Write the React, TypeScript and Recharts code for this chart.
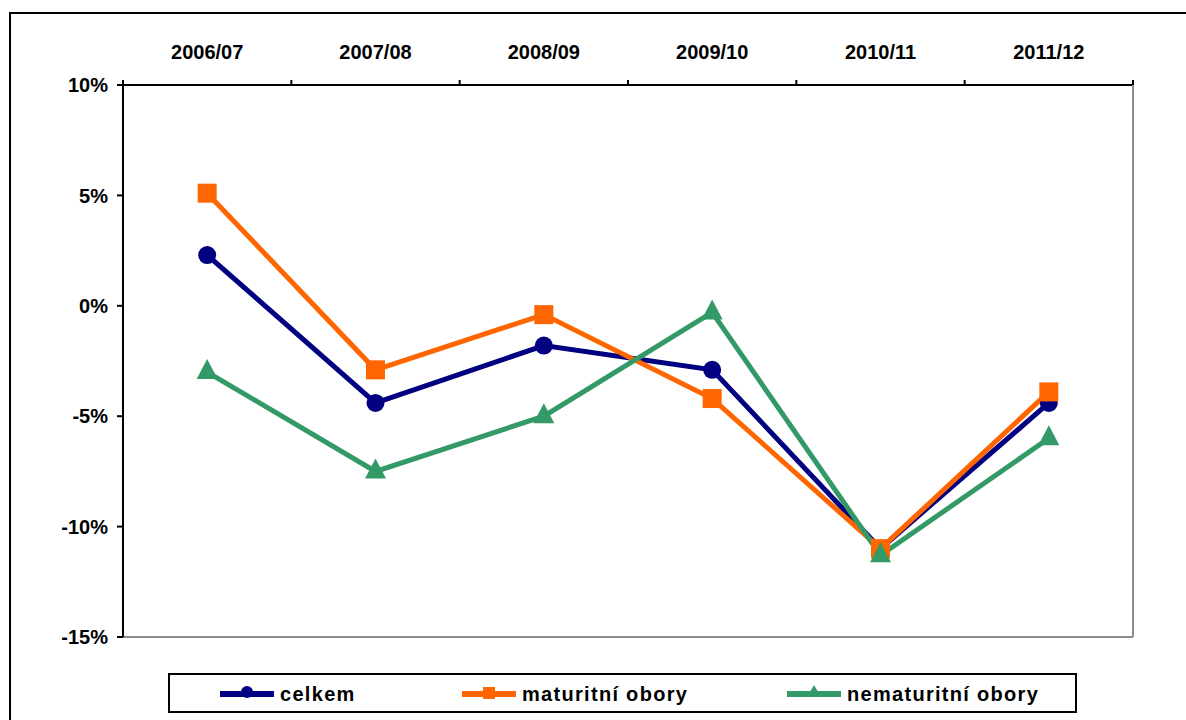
import React from 'react';
import { LineChart, Line, XAxis, YAxis, CartesianGrid, Legend } from 'recharts';

const categories = ['2006/07', '2007/08', '2008/09', '2009/10', '2010/11', '2011/12'];
const celkem = [2.3, -4.4, -1.8, -2.9, -11.0, -4.4];
const maturitni = [5.1, -2.9, -0.4, -4.2, -11.0, -3.9];
const nematuritni = [-3.0, -7.5, -5.0, -0.3, -11.3, -6.0];
const yTicks = [-15, -10, -5, 0, 5, 10];
const gridValues = [-10, -5, 0, 5, 10];
const seriesKeys = ['celkem', 'maturitni', 'nematuritni'];
const seriesNames = ['celkem', 'maturitní obory', 'nematuritní obory'];
const seriesColors = ['#000080', '#FF6600', '#339966'];
const seriesShapes = ['circle', 'square', 'triangle'];

const data = categories.map((c, i) => ({
  cat: c,
  celkem: celkem[i],
  maturitni: maturitni[i],
  nematuritni: nematuritni[i],
}));

const FONT = '"Liberation Sans", Arial, sans-serif';
const X_TICK_MARGIN = 26;

const makeDot = (shape: string, color: string) => (props: any) => {
  const { cx, cy, index } = props;
  if (cx == null || cy == null) return <g key={index} />;
  if (shape === 'circle') return <circle key={index} cx={cx} cy={cy} r={9} fill={color} />;
  if (shape === 'square')
    return <rect key={index} x={cx - 9.5} y={cy - 9.5} width={19} height={19} fill={color} />;
  return (
    <polygon
      key={index}
      points={`${cx},${cy - 13} ${cx + 10.5},${cy + 7} ${cx - 10.5},${cy + 7}`}
      fill={color}
    />
  );
};

const CategoryTick = (props: any) => {
  const { x, y, payload, index, visibleTicksCount } = props;
  const half = payload?.offset ?? 0;
  const axisY = y + X_TICK_MARGIN;
  const isLast = index === (visibleTicksCount ?? categories.length) - 1;
  return (
    <g>
      <text
        x={x}
        y={y}
        textAnchor="middle"
        fill="#000"
        fontSize={20}
        fontWeight="bold"
        fontFamily={FONT}
      >
        {payload.value}
      </text>
      <line x1={x - half} x2={x - half} y1={axisY - 5} y2={axisY} stroke="#000" strokeWidth={2} />
      {isLast && (
        <line x1={x + half} x2={x + half} y1={axisY - 5} y2={axisY} stroke="#000" strokeWidth={2} />
      )}
    </g>
  );
};

const LegendSample = ({ shape, color }: { shape: string; color: string }) => (
  <svg width={54} height={20} style={{ display: 'block' }}>
    <line x1={0} y1={10} x2={54} y2={10} stroke={color} strokeWidth={6} />
    {shape === 'circle' && <circle cx={27} cy={8} r={6} fill={color} />}
    {shape === 'square' && <rect x={21} y={3} width={12} height={12} fill={color} />}
    {shape === 'triangle' && <polygon points="27,1 34,13 20,13" fill={color} />}
  </svg>
);

const legendOffsets = [50, 292, 617];

const renderLegend = () => (
  <div
    style={{
      position: 'relative',
      width: 909,
      height: 40,
      border: '2px solid #000',
      boxSizing: 'border-box',
      background: '#fff',
      fontFamily: FONT,
    }}
  >
    {seriesNames.map((n, i) => (
      <div
        key={n}
        style={{
          position: 'absolute',
          left: legendOffsets[i],
          top: 8,
          display: 'flex',
          alignItems: 'center',
          gap: 6,
        }}
      >
        <LegendSample shape={seriesShapes[i]} color={seriesColors[i]} />
        <span style={{ fontSize: 20, fontWeight: 'bold', letterSpacing: 1.3, color: '#000', lineHeight: '22px' }}>
          {n}
        </span>
      </div>
    ))}
  </div>
);

export default function App() {
  return (
    <div
      style={{
        position: 'absolute',
        left: 0,
        top: 0,
        width: 1186,
        height: 720,
        overflow: 'hidden',
        background: '#fff',
      }}
    >
      <div
        style={{
          position: 'absolute',
          left: 9,
          top: 12,
          width: 1300,
          height: 800,
          border: '2px solid #000',
        }}
      />
      <div style={{ position: 'absolute', left: 0, top: 0 }}>
        <LineChart
          width={1186}
          height={720}
          data={data}
          margin={{ top: 25, right: 52, bottom: 82, left: 63 }}
        >
          <CartesianGrid
            horizontal
            vertical={false}
            stroke="#000"
            strokeWidth={2}
            horizontalValues={gridValues}
          />
          <XAxis
            xAxisId="lab"
            dataKey="cat"
            orientation="top"
            scale="band"
            height={60}
            tickLine={false}
            tickSize={0}
            tickMargin={X_TICK_MARGIN}
            axisLine={{ stroke: '#000', strokeWidth: 2 }}
            tick={<CategoryTick />}
            interval={0}
          />
          <XAxis
            xAxisId="bot"
            dataKey="cat"
            orientation="bottom"
            scale="band"
            height={1}
            tick={false}
            tickLine={false}
            axisLine={{ stroke: '#8c8c8c', strokeWidth: 2 }}
          />
          <YAxis
            yAxisId="l"
            domain={[-15, 10]}
            ticks={yTicks}
            width={60}
            tickSize={6}
            tickMargin={9}
            tickLine={{ stroke: '#000', strokeWidth: 2 }}
            axisLine={{ stroke: '#000', strokeWidth: 2 }}
            tickFormatter={(v: number) => `${v}%`}
            tick={{ fill: '#000', fontSize: 20, fontWeight: 'bold', fontFamily: FONT }}
          />
          <YAxis
            yAxisId="r"
            orientation="right"
            type="number"
            domain={[0, 1]}
            allowDataOverflow
            width={1}
            tick={false}
            tickLine={false}
            axisLine={{ stroke: '#8c8c8c', strokeWidth: 2 }}
          />
          {seriesKeys.map((k, i) => (
            <Line
              key={k}
              xAxisId="lab"
              yAxisId="l"
              type="linear"
              dataKey={k}
              name={seriesNames[i]}
              stroke={seriesColors[i]}
              strokeWidth={5}
              dot={makeDot(seriesShapes[i], seriesColors[i])}
              activeDot={false}
              isAnimationActive={false}
            />
          ))}
          <Legend
            layout="horizontal"
            verticalAlign="middle"
            align="center"
            content={renderLegend}
            wrapperStyle={{ left: 168, top: 673, width: 909, height: 40 }}
          />
        </LineChart>
      </div>
    </div>
  );
}
